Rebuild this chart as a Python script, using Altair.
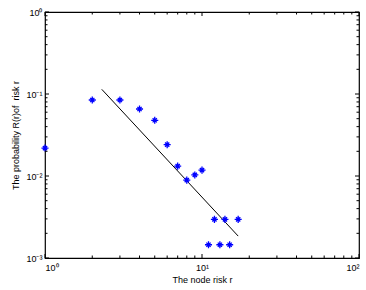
import altair as alt
import pandas as pd

# data
risk = [1, 2, 3, 4, 5, 6, 7, 8, 9, 10, 11, 12, 13, 14, 15, 17]
prob = [0.0219, 0.0845, 0.0845, 0.0656, 0.0478, 0.0241, 0.0132, 0.0089,
        0.0103, 0.0118, 0.00145, 0.00296, 0.00145, 0.00296, 0.00145, 0.00296]
fit_r = [2.3, 17.0]
fit_p = [0.114, 0.00185]

x_major = [1, 10, 100]
x_minor = [2, 3, 4, 5, 6, 7, 8, 9, 20, 30, 40, 50, 60, 70, 80, 90]
y_major = [0.001, 0.01, 0.1, 1]
y_minor = [0.002, 0.003, 0.004, 0.005, 0.006, 0.007, 0.008, 0.009,
           0.02, 0.03, 0.04, 0.05, 0.06, 0.07, 0.08, 0.09,
           0.2, 0.3, 0.4, 0.5, 0.6, 0.7, 0.8, 0.9]

W, H = 314, 246
FONT = "Liberation Sans"
MAJ, MIN = 4, 2.5

xs = alt.Scale(type="log", domain=[1, 100], nice=False)
ys = alt.Scale(type="log", domain=[0.001, 1], nice=False)

sup = ("['10\u207b\u00b3','10\u207b\u00b2','10\u207b\u00b9','10\u2070','10\u00b9','10\u00b2']"
       "[round(log(datum.value)/LN10)+3]")

xaxis = alt.Axis(
    values=x_major, labelExpr=sup, tickSize=0, domain=False, grid=False,
    labelFont=FONT, labelFontSize=9, labelColor="black", labelPadding=5,
    title="The node risk r", titleFont=FONT, titleFontSize=9,
    titleFontWeight="normal", titleColor="black", titlePadding=3)
yaxis = alt.Axis(
    values=y_major, labelExpr=sup, tickSize=0, domain=False, grid=False,
    labelFont=FONT, labelFontSize=9, labelColor="black", labelPadding=3,
    title="The probability R(r)of\u00a0 risk r", titleFont=FONT, titleFontSize=9,
    titleFontWeight="normal", titleColor="black", titlePadding=5)

pts = pd.DataFrame({"r": risk, "p": prob})
fit = pd.DataFrame({"r": fit_r, "p": fit_p})

star = "M0,-1L0,1M-1,0L1,0M-0.6,-0.6L0.6,0.6M-0.6,0.6L0.6,-0.6"

points = alt.Chart(pts).mark_point(
    shape=star, filled=False, stroke="#0000ff", strokeWidth=1.3, size=50, opacity=1
).encode(
    x=alt.X("r:Q", scale=xs, axis=xaxis),
    y=alt.Y("p:Q", scale=ys, axis=yaxis),
)

line = alt.Chart(fit).mark_line(color="black", strokeWidth=1).encode(
    x=alt.X("r:Q", scale=xs, axis=xaxis),
    y=alt.Y("p:Q", scale=ys, axis=yaxis),
)


def xticks(vals, length):
    d = pd.DataFrame({"r": vals})
    bottom = alt.Chart(d).mark_rule(color="black", strokeWidth=1).encode(
        x=alt.X("r:Q", scale=xs, axis=xaxis), y=alt.value(H), y2=alt.value(H - length))
    top = alt.Chart(d).mark_rule(color="black", strokeWidth=1).encode(
        x=alt.X("r:Q", scale=xs, axis=xaxis), y=alt.value(0), y2=alt.value(length))
    return [bottom, top]


def yticks(vals, length):
    d = pd.DataFrame({"p": vals})
    left = alt.Chart(d).mark_rule(color="black", strokeWidth=1).encode(
        y=alt.Y("p:Q", scale=ys, axis=yaxis), x=alt.value(0), x2=alt.value(length))
    right = alt.Chart(d).mark_rule(color="black", strokeWidth=1).encode(
        y=alt.Y("p:Q", scale=ys, axis=yaxis), x=alt.value(W), x2=alt.value(W - length))
    return [left, right]


layers = [line, points] + xticks(x_major, MAJ) + xticks(x_minor, MIN) \
    + yticks(y_major, MAJ) + yticks(y_minor, MIN)

chart = alt.layer(*layers).properties(
    width=W, height=H,
    background="white",
    autosize=alt.AutoSizeParams(type="none"),
    padding={"left": 45, "top": 12, "right": 7, "bottom": 32},
).configure_view(stroke="black", strokeWidth=1.2)

chart.save("out.html", embed_options={"renderer": "svg", "actions": False})
